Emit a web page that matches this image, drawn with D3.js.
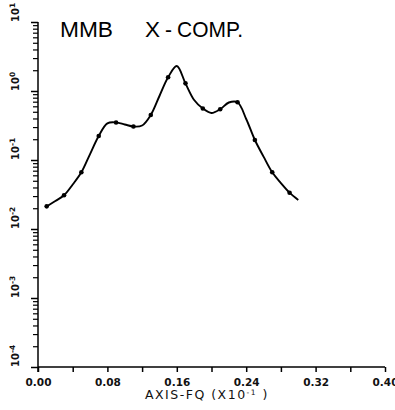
<!DOCTYPE html>
<html>
<head>
<meta charset="utf-8">
<script src="https://cdn.jsdelivr.net/npm/d3@7"></script>
<style>
  body { margin: 0; background: #fff; }
  svg { display: block; }
</style>
</head>
<body>
<div id="chart"></div>
<script>
// frequency axis (x10^-1), sampled every 0.01
const freq = [0.01, 0.02, 0.03, 0.04, 0.05, 0.06, 0.07, 0.08, 0.09, 0.10,
              0.11, 0.12, 0.13, 0.14, 0.15, 0.16, 0.17, 0.18, 0.19, 0.20,
              0.21, 0.22, 0.23, 0.24, 0.25, 0.26, 0.27, 0.28, 0.29, 0.30];
// spectral amplitude
const amp = [0.0213, 0.0255, 0.0308, 0.0441, 0.0663, 0.122, 0.223, 0.340, 0.350, 0.327,
             0.306, 0.316, 0.449, 0.846, 1.58, 2.30, 1.29, 0.741, 0.558, 0.480,
             0.543, 0.681, 0.686, 0.393, 0.195, 0.112, 0.0663, 0.0464, 0.0336, 0.0263];
// markers are drawn on every other sample
const markerFreq = [0.01, 0.03, 0.05, 0.07, 0.09, 0.11, 0.13, 0.15, 0.17, 0.19,
                    0.21, 0.23, 0.25, 0.27, 0.29];

const xMajor = [0.00, 0.08, 0.16, 0.24, 0.32, 0.40];
const xMinor = [0.04, 0.12, 0.20, 0.28, 0.36];
const yDecades = [-4, -3, -2, -1, 0, 1];

const width = 395, height = 410;
const margin = { top: 22, right: 10, bottom: 43, left: 38 };

const svg = d3.select('#chart')
    .append('svg')
    .attr('width', width)
    .attr('height', height);

const x = d3.scaleLinear()
    .domain([0, 0.40])
    .range([margin.left, width - margin.right]);

const y = d3.scaleLog()
    .domain([1e-4, 10])
    .range([height - margin.bottom, margin.top]);

const axisFont = 'DejaVu Sans, sans-serif';

// x axis, ticks hang below the line
const xAxis = svg.append('g')
    .attr('transform', `translate(0,${height - margin.bottom})`);
xAxis.call(d3.axisBottom(x)
        .tickValues(xMajor)
        .tickSize(5)
        .tickFormat(d3.format('.2f')))
    .call(g => g.select('.domain').attr('d', `M${x(0)},0H${x(0.40)}`));
xAxis.selectAll('.tick line').attr('stroke', '#000').attr('stroke-width', 1.5);
xAxis.select('.domain').attr('stroke', '#000').attr('stroke-width', 1.5);
xAxis.selectAll('.tick text')
    .attr('y', 12)
    .attr('font-family', axisFont)
    .attr('font-weight', 'bold')
    .attr('font-size', 10.5)
    .attr('fill', '#111');

svg.append('g')
    .attr('transform', `translate(0,${height - margin.bottom})`)
    .call(d3.axisBottom(x).tickValues(xMinor).tickSize(5).tickFormat(''))
    .call(g => g.select('.domain').remove())
    .selectAll('.tick line').attr('stroke', '#000').attr('stroke-width', 1.5);

// y axis, log decades with minor ticks on the left
const minorY = [];
yDecades.slice(0, -1).forEach(e => {
    for (let k = 2; k <= 9; k++) minorY.push(k * Math.pow(10, e));
});

const yAxis = svg.append('g')
    .attr('transform', `translate(${margin.left},0)`);
yAxis.call(d3.axisLeft(y)
        .tickValues(yDecades.map(e => Math.pow(10, e)))
        .tickSize(7)
        .tickFormat(''))
    .call(g => g.select('.domain')
        .attr('d', `M0,${y(10)}V${height - margin.bottom + 5}`));
yAxis.select('.domain').attr('stroke', '#000').attr('stroke-width', 1.5);
yAxis.selectAll('.tick line').attr('stroke', '#000').attr('stroke-width', 1.5);

svg.append('g')
    .attr('transform', `translate(${margin.left},0)`)
    .call(d3.axisLeft(y).tickValues(minorY).tickSize(5).tickFormat(''))
    .call(g => g.select('.domain').remove())
    .selectAll('.tick line').attr('stroke', '#000').attr('stroke-width', 1.2);

// rotated decade labels
const yLab = svg.append('g')
    .selectAll('text')
    .data(yDecades)
    .join('text')
    .attr('transform', d => `translate(19,${y(Math.pow(10, d))}) rotate(-90)`)
    .attr('font-family', axisFont)
    .attr('font-weight', 'bold')
    .attr('font-size', 10)
    .attr('fill', '#111');
yLab.append('tspan').text('10');
yLab.append('tspan')
    .attr('dy', -4)
    .attr('font-size', 7.5)
    .text(d => d === 0 ? '0' : (d > 0 ? d : '-' + Math.abs(d)));

// curve
const line = d3.line()
    .x((d, i) => x(freq[i]))
    .y(d => y(d))
    .curve(d3.curveCatmullRom.alpha(0.5));

svg.append('path')
    .datum(amp)
    .attr('d', line)
    .attr('fill', 'none')
    .attr('stroke', '#000')
    .attr('stroke-width', 1.9);

svg.append('g')
    .selectAll('circle')
    .data(markerFreq)
    .join('circle')
    .attr('cx', d => x(d))
    .attr('cy', d => y(amp[freq.findIndex(f => Math.abs(f - d) < 1e-9)]))
    .attr('r', 2.3)
    .attr('fill', '#000');

// titles
const titleFont = 'Liberation Sans, Arial, sans-serif';
[['MMB', 60, 53], ['X', 145, 15], ['-', 165, 7], ['COMP.', 177, 66]].forEach(([t, tx, len]) => {
    svg.append('text')
        .attr('x', tx).attr('y', 37)
        .attr('font-family', titleFont)
        .attr('font-size', 21.5)
        .attr('textLength', len)
        .attr('lengthAdjust', 'spacingAndGlyphs')
        .attr('fill', '#000')
        .text(t);
});

const xt = svg.append('text')
    .attr('x', 145).attr('y', 399)
    .attr('font-family', axisFont)
    .attr('font-size', 12.5)
    .attr('letter-spacing', 1.5)
    .attr('fill', '#111');
xt.append('tspan').text('AXIS-FQ (X10');
xt.append('tspan').attr('dy', -4).attr('font-size', 7.5).text('-1');
xt.append('tspan').attr('dy', 4).text(' )');
</script>
</body>
</html>
